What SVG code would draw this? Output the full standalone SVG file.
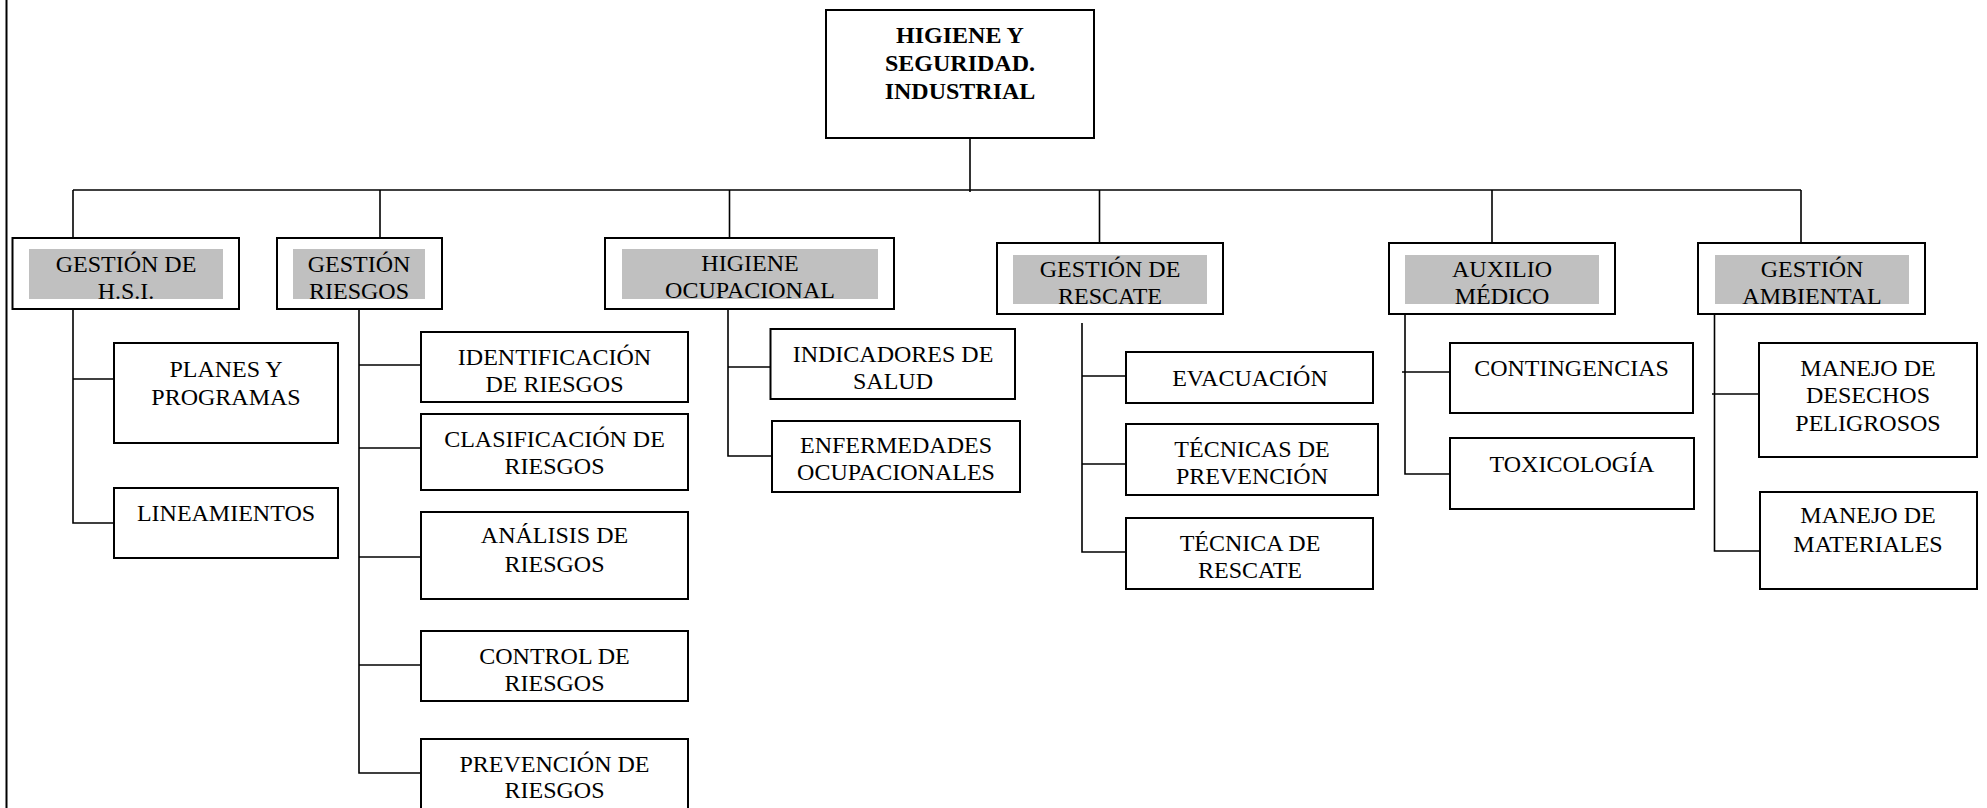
<svg xmlns="http://www.w3.org/2000/svg" width="1987" height="808" viewBox="0 0 1987 808">
<style>
.box{fill:#fff;stroke:#000;stroke-width:2}
.hl{fill:#c0c0c0;stroke:none}
.ln{stroke:#000;stroke-width:1.6;fill:none}
text{font-family:"Liberation Serif","Times New Roman",serif;font-size:24px;fill:#000;text-anchor:middle}
.b{font-weight:bold}
</style>
<rect width="1987" height="808" fill="#fff"/>
<g id="connectors">
<line class="ln" x1="6.5" y1="0" x2="6.5" y2="808" style="stroke-width:2"/>
<line class="ln" x1="970" y1="138" x2="970" y2="192"/>
<line class="ln" x1="73" y1="190" x2="1801" y2="190"/>
<line class="ln" x1="73" y1="190" x2="73" y2="238"/>
<line class="ln" x1="380" y1="190" x2="380" y2="238"/>
<line class="ln" x1="729.5" y1="190" x2="729.5" y2="238"/>
<line class="ln" x1="1099.5" y1="190" x2="1099.5" y2="243"/>
<line class="ln" x1="1492" y1="190" x2="1492" y2="243"/>
<line class="ln" x1="1801" y1="190" x2="1801" y2="243"/>
<polyline class="ln" points="73,309 73,523 114,523"/>
<line class="ln" x1="73" y1="379" x2="114" y2="379"/>
<polyline class="ln" points="359,309 359,773 421,773"/>
<line class="ln" x1="359" y1="365" x2="421" y2="365"/>
<line class="ln" x1="359" y1="448" x2="421" y2="448"/>
<line class="ln" x1="359" y1="557" x2="421" y2="557"/>
<line class="ln" x1="359" y1="665" x2="421" y2="665"/>
<polyline class="ln" points="728,309 728,456 772,456"/>
<line class="ln" x1="728" y1="367" x2="770" y2="367"/>
<polyline class="ln" points="1082,323 1082,552 1126,552"/>
<line class="ln" x1="1082" y1="376" x2="1126" y2="376"/>
<line class="ln" x1="1082" y1="464" x2="1126" y2="464"/>
<polyline class="ln" points="1405,314 1405,474 1450,474"/>
<line class="ln" x1="1402" y1="372" x2="1450" y2="372"/>
<polyline class="ln" points="1714.5,314 1714.5,551 1760,551"/>
<line class="ln" x1="1712" y1="394" x2="1759" y2="394"/>
</g>
<g id="root">
<rect class="box" x="826" y="10" width="268" height="128"/>
<text class="b" x="960" y="43">HIGIENE Y</text>
<text class="b" x="960" y="71">SEGURIDAD.</text>
<text class="b" x="960" y="99">INDUSTRIAL</text>
</g>
<g id="gestion-hsi">
<rect class="box" x="12.5" y="238" width="226.5" height="71"/>
<rect class="hl" x="29" y="249" width="194" height="50"/>
<text x="126" y="272">GESTIÓN DE</text>
<text x="126" y="299">H.S.I.</text>
</g>
<g id="gestion-riesgos">
<rect class="box" x="277" y="238" width="165" height="71"/>
<rect class="hl" x="293" y="249" width="132" height="50"/>
<text x="359" y="272">GESTIÓN</text>
<text x="359" y="299">RIESGOS</text>
</g>
<g id="higiene-ocupacional">
<rect class="box" x="605" y="238" width="289" height="71"/>
<rect class="hl" x="622" y="249" width="256" height="50"/>
<text x="750" y="271">HIGIENE</text>
<text x="750" y="298">OCUPACIONAL</text>
</g>
<g id="gestion-rescate">
<rect class="box" x="997" y="243" width="226" height="71"/>
<rect class="hl" x="1013" y="255" width="194" height="49"/>
<text x="1110" y="277">GESTIÓN DE</text>
<text x="1110" y="304">RESCATE</text>
</g>
<g id="auxilio-medico">
<rect class="box" x="1389" y="243" width="226" height="71"/>
<rect class="hl" x="1405" y="255" width="194" height="49"/>
<text x="1502" y="277">AUXILIO</text>
<text x="1502" y="304">MÉDICO</text>
</g>
<g id="gestion-ambiental">
<rect class="box" x="1698" y="243" width="227" height="71"/>
<rect class="hl" x="1715" y="255" width="194" height="49"/>
<text x="1812" y="277">GESTIÓN</text>
<text x="1812" y="304">AMBIENTAL</text>
</g>
<g id="planes">
<rect class="box" x="114" y="343" width="224" height="100"/>
<text x="226" y="377">PLANES Y</text>
<text x="226" y="405">PROGRAMAS</text>
</g>
<g id="lineamientos">
<rect class="box" x="114" y="488" width="224" height="70"/>
<text x="226" y="521">LINEAMIENTOS</text>
</g>
<g id="identificacion">
<rect class="box" x="421" y="332" width="267" height="70"/>
<text x="554.5" y="365">IDENTIFICACIÓN</text>
<text x="554.5" y="392">DE RIESGOS</text>
</g>
<g id="clasificacion">
<rect class="box" x="421" y="414" width="267" height="76"/>
<text x="554.5" y="447">CLASIFICACIÓN DE</text>
<text x="554.5" y="474">RIESGOS</text>
</g>
<g id="analisis">
<rect class="box" x="421" y="512" width="267" height="87"/>
<text x="554.5" y="543">ANÁLISIS DE</text>
<text x="554.5" y="572">RIESGOS</text>
</g>
<g id="control">
<rect class="box" x="421" y="631" width="267" height="70"/>
<text x="554.5" y="664">CONTROL DE</text>
<text x="554.5" y="691">RIESGOS</text>
</g>
<g id="prevencion">
<rect class="box" x="421" y="739" width="267" height="80"/>
<text x="554.5" y="772">PREVENCIÓN DE</text>
<text x="554.5" y="798">RIESGOS</text>
</g>
<g id="indicadores">
<rect class="box" x="770.5" y="329" width="244.5" height="70"/>
<text x="893" y="362">INDICADORES DE</text>
<text x="893" y="389">SALUD</text>
</g>
<g id="enfermedades">
<rect class="box" x="772" y="421" width="248" height="71"/>
<text x="896" y="453">ENFERMEDADES</text>
<text x="896" y="480">OCUPACIONALES</text>
</g>
<g id="evacuacion">
<rect class="box" x="1126" y="352" width="247" height="51"/>
<text x="1250" y="386">EVACUACIÓN</text>
</g>
<g id="tecnicas-prevencion">
<rect class="box" x="1126" y="424" width="252" height="71"/>
<text x="1252" y="457">TÉCNICAS DE</text>
<text x="1252" y="484">PREVENCIÓN</text>
</g>
<g id="tecnica-rescate">
<rect class="box" x="1126" y="518" width="247" height="71"/>
<text x="1250" y="551">TÉCNICA DE</text>
<text x="1250" y="578">RESCATE</text>
</g>
<g id="contingencias">
<rect class="box" x="1450" y="343" width="243" height="70"/>
<text x="1571.5" y="376">CONTINGENCIAS</text>
</g>
<g id="toxicologia">
<rect class="box" x="1450" y="438" width="244" height="71"/>
<text x="1572" y="472">TOXICOLOGÍA</text>
</g>
<g id="desechos">
<rect class="box" x="1759" y="343" width="218" height="114"/>
<text x="1868" y="376">MANEJO DE</text>
<text x="1868" y="403">DESECHOS</text>
<text x="1868" y="431">PELIGROSOS</text>
</g>
<g id="materiales">
<rect class="box" x="1760" y="492" width="217" height="97"/>
<text x="1868" y="523">MANEJO DE</text>
<text x="1868" y="552">MATERIALES</text>
</g>
</svg>
